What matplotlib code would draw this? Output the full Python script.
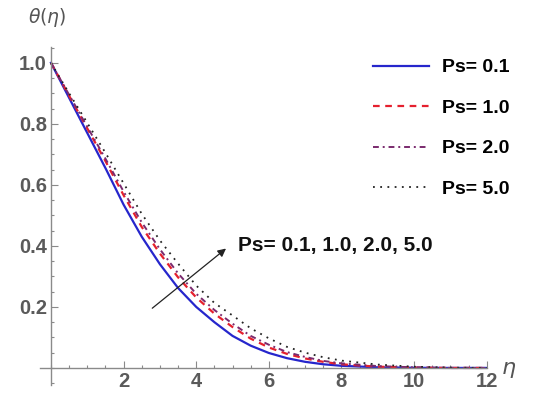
import matplotlib
matplotlib.use("Agg")
import matplotlib.pyplot as plt
from matplotlib.ticker import MultipleLocator, FixedLocator

# Temperature profiles theta(eta)
eta = [0, 0.5, 1, 1.5, 2, 2.5, 3, 3.5, 4, 4.5, 5, 5.5, 6, 6.5, 7, 7.5, 8, 9, 10, 11, 12]
theta_ps01 = [1.0, 0.885, 0.77, 0.655, 0.535, 0.43, 0.34, 0.262, 0.2, 0.15, 0.105,
              0.073, 0.049, 0.032, 0.02, 0.012, 0.007, 0.002, 0.0005, 0.0, 0.0]
theta_ps10 = [1.0, 0.892, 0.785, 0.678, 0.566, 0.462, 0.375, 0.297, 0.231, 0.178, 0.134,
              0.096, 0.067, 0.046, 0.031, 0.02, 0.012, 0.004, 0.001, 0.0, 0.0]
theta_ps20 = [1.0, 0.895, 0.79, 0.686, 0.578, 0.477, 0.389, 0.31, 0.243, 0.19, 0.145,
              0.105, 0.076, 0.052, 0.036, 0.023, 0.015, 0.006, 0.002, 0.0, 0.0]
theta_ps50 = [1.0, 0.9, 0.803, 0.705, 0.605, 0.505, 0.418, 0.342, 0.27, 0.213, 0.172,
              0.13, 0.097, 0.069, 0.05, 0.035, 0.024, 0.011, 0.004, 0.001, 0.0]

labels = ["Ps= 0.1", "Ps= 1.0", "Ps= 2.0", "Ps= 5.0"]
x_ticks = [2, 4, 6, 8, 10, 12]
y_ticks = [0.2, 0.4, 0.6, 0.8, 1.0]

fig = plt.figure(figsize=(5.5, 3.94), dpi=100)
ax = fig.add_axes([0.0729, 0.0228, 0.812, 0.858])

ax.plot(eta, theta_ps01, color="#2626cc", lw=1.6, ls="-", label=labels[0])
ax.plot(eta, theta_ps10, color="#e5202e", lw=1.6, ls=(0, (3, 2.5)), label=labels[1])
ax.plot(eta, theta_ps20, color="#7a2a6e", lw=1.4, ls=(0, (3, 2, 1, 2)), label=labels[2])
ax.plot(eta, theta_ps50, color="#222222", lw=1.3, ls=(0, (1, 3)), label=labels[3])

ax.set_xlim(-0.3, 12.0)
ax.set_ylim(-0.056, 1.052)

# Mathematica-like axes crossing at the origin
for s in ["top", "right"]:
    ax.spines[s].set_visible(False)
ax.spines["left"].set_position(("data", 0))
ax.spines["bottom"].set_position(("data", 0))
for s in ["left", "bottom"]:
    ax.spines[s].set_color("#8a8a8a")
    ax.spines[s].set_linewidth(1.0)

ax.xaxis.set_major_locator(FixedLocator(x_ticks))
ax.xaxis.set_minor_locator(MultipleLocator(0.5))
ax.yaxis.set_major_locator(FixedLocator(y_ticks))
ax.yaxis.set_minor_locator(MultipleLocator(0.05))
ax.set_xticklabels([str(t) for t in x_ticks])
ax.set_yticklabels([f"{t:.1f}" for t in y_ticks])

ax.tick_params(which="both", direction="in", color="#8a8a8a", width=0.8)
ax.tick_params(which="major", length=5)
ax.tick_params(which="minor", length=2.5)
ax.tick_params(axis="x", which="major", pad=3)
ax.tick_params(axis="y", which="major", pad=3)
for lab in ax.get_xticklabels() + ax.get_yticklabels():
    lab.set_fontfamily("Liberation Sans")
    lab.set_fontweight("bold")
    lab.set_fontsize(14.5)
    lab.set_color("#5a5a5a")

fig.text(0.085, 0.955, r"$\theta(\eta)$", fontsize=13.5, color="#555555",
         ha="center", va="center")
fig.text(0.925, 0.06, r"$\eta$", fontsize=16, color="#555555",
         ha="center", va="center")

leg = ax.legend(loc="upper left", bbox_to_anchor=(363 / 550, 1 - 49 / 394),
                bbox_transform=fig.transFigure, frameon=False, borderpad=0,
                handlelength=2.9, handletextpad=0.65, labelspacing=1.18,
                prop={"family": "Liberation Sans", "weight": "bold", "size": 14})

ax.annotate("", xy=(4.88, 0.397), xytext=(2.73, 0.19),
            arrowprops=dict(arrowstyle="-|>", color="#222222", lw=0.9,
                            mutation_scale=12))
ax.text(5.15, 0.40, "Ps= 0.1, 1.0, 2.0, 5.0", fontsize=15, fontweight="bold",
        family="Liberation Sans", color="#111111", ha="left", va="center")

fig.savefig("out.png", dpi=100)
